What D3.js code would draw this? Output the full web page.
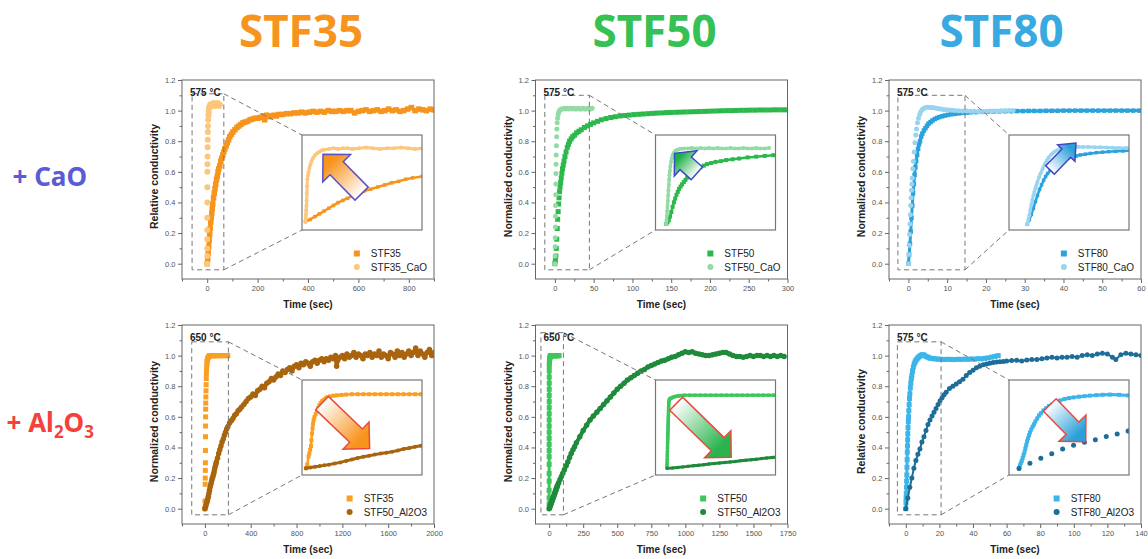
<!DOCTYPE html>
<html>
<head>
<meta charset="utf-8">
<script src="https://cdn.jsdelivr.net/npm/d3@7/dist/d3.min.js"></script>
<style>
  body { margin: 0; background: #fff; }
  svg text { font-family: "Liberation Sans", Arial, sans-serif; }
</style>
</head>
<body>
<svg id="fig" width="1148" height="559"></svg>
<script>
/////////////////// data : [time (sec), relative / normalized conductivity]

// STF35 vs STF35_CaO, 575 C
const stf35Bare575 = [[0,0.0],[2,0.03],[4,0.07],[6,0.11],[8,0.15],[10,0.19],[12,0.23],[14,0.27],[16,0.3],[18,0.33],[20,0.36],[22,0.39],[25,0.43],[28,0.46],[31,0.49],[34,0.52],[37,0.55],[40,0.57],[43,0.6],[46,0.62],[50,0.64],[54,0.67],[58,0.69],[62,0.71],[66,0.73],[70,0.75],[75,0.77],[80,0.79],[85,0.81],[90,0.83],[96,0.845],[102,0.86],[110,0.875],[118,0.89],[126,0.9],[134,0.91],[142,0.92],[150,0.925],[160,0.93],[170,0.94],[180,0.945],[190,0.95],[200,0.95],[210,0.955],[220,0.965],[228,0.94],[236,0.97],[245,0.96],[255,0.965],[265,0.97],[275,0.965],[285,0.975],[300,0.975],[315,0.98],[330,0.98],[345,0.985],[360,0.985],[375,0.99],[390,0.985],[405,0.99],[420,0.995],[435,0.99],[450,0.995],[465,0.99],[480,1.0],[495,0.995],[510,0.995],[525,1.0],[540,0.995],[555,1.0],[570,1.0],[585,0.985],[600,0.995],[615,1.0],[630,1.005],[645,0.995],[660,1.0],[675,1.005],[690,0.995],[705,1.0],[720,1.01],[735,1.0],[750,1.005],[765,0.995],[780,1.0],[795,1.01],[810,1.02],[825,1.0],[840,1.01],[855,1.005],[870,1.0],[885,1.01],[900,1.005]];
const stf35CaO575 = [[0,0.0],[0.1,0.05],[0.2,0.1],[0.3,0.16],[0.4,0.22],[0.5,0.3],[0.6,0.4],[0.7,0.5],[0.8,0.6],[1.0,0.65],[1.3,0.7],[1.7,0.76],[2.1,0.81],[2.6,0.86],[3.2,0.9],[4,0.94],[5,0.97],[6,0.99],[7,1.01],[8,1.02],[10,1.03],[12,1.04],[14,1.03],[16,1.04],[18,1.04],[20,1.03],[23,1.04],[26,1.05],[29,1.04],[32,1.03],[35,1.04],[38,1.04],[41,1.05],[44,1.04],[47,1.03],[50,1.04]];

// STF50 vs STF50_CaO, 575 C
const stf50Bare575 = [[0,0.0],[0.6,0.02],[1.2,0.05],[1.8,0.1],[2.4,0.16],[3,0.23],[3.6,0.29],[4.2,0.34],[4.8,0.39],[5.4,0.43],[6,0.47],[6.7,0.5],[7.4,0.53],[8.2,0.56],[9,0.59],[9.8,0.62],[10.8,0.645],[11.8,0.67],[13,0.7],[14.4,0.73],[16,0.76],[17.5,0.78],[19,0.8],[21,0.815],[23,0.83],[25.5,0.84],[28,0.855],[31,0.865],[34,0.875],[38,0.89],[42,0.9],[46,0.91],[50,0.92],[55,0.93],[60,0.94],[66,0.948],[72,0.955],[78,0.96],[84,0.965],[90,0.968],[96,0.971],[102,0.974],[108,0.976],[114,0.978],[120,0.98],[126,0.982],[132,0.984],[138,0.985],[144,0.987],[150,0.988],[156,0.989],[162,0.99],[168,0.991],[174,0.992],[180,0.993],[186,0.994],[192,0.995],[198,0.996],[204,0.997],[210,0.998],[216,0.999],[222,1.0],[228,1.0],[234,1.001],[240,1.002],[246,1.002],[252,1.003],[258,1.003],[264,1.004],[270,1.004],[276,1.004],[282,1.005],[288,1.005],[294,1.005],[300,1.005]];
const stf50CaO575 = [[0,0.0],[0.15,0.05],[0.3,0.11],[0.45,0.17],[0.6,0.24],[0.75,0.31],[0.9,0.38],[1.05,0.45],[1.2,0.52],[1.35,0.59],[1.5,0.65],[1.7,0.71],[1.95,0.77],[2.25,0.83],[2.6,0.88],[3,0.92],[3.5,0.95],[4.2,0.975],[5,0.99],[6,1.0],[7,1.005],[8.5,1.01],[10,1.01],[12,1.015],[14,1.01],[16,1.015],[18,1.01],[20,1.015],[22,1.01],[24,1.015],[26,1.01],[28,1.01],[30,1.015],[32,1.01],[34,1.01],[36,1.015],[38,1.01],[40,1.01],[42,1.015],[44,1.01],[46,1.01],[48,1.015]];

// STF80 vs STF80_CaO, 575 C
const stf80Bare575 = [[0,0.0],[0.2,0.06],[0.4,0.13],[0.6,0.21],[0.8,0.3],[1.0,0.38],[1.2,0.46],[1.4,0.52],[1.6,0.58],[1.8,0.63],[2.0,0.67],[2.25,0.71],[2.5,0.75],[2.75,0.78],[3.0,0.8],[3.3,0.83],[3.6,0.85],[4.0,0.87],[4.4,0.885],[4.8,0.9],[5.2,0.915],[5.7,0.925],[6.2,0.935],[6.8,0.945],[7.4,0.952],[8,0.958],[8.7,0.963],[9.4,0.968],[10.2,0.972],[11,0.976],[12,0.979],[13,0.982],[14,0.985],[15,0.987],[16,0.989],[17.5,0.99],[19,0.992],[20.5,0.993],[22,0.994],[23.5,0.995],[25,0.996],[26.5,0.996],[28,0.997],[29.5,0.997],[31,0.998],[32.5,0.998],[34,0.998],[35.5,0.999],[37,0.999],[38.5,0.999],[40,1.0],[41.5,1.0],[43,1.0],[44.5,1.0],[46,1.0],[47.5,1.0],[49,1.0],[50.5,1.0],[52,1.0],[53.5,1.0],[55,1.0],[56.5,1.0],[58,1.0],[59.5,1.0]];
const stf80CaO575 = [[0,0.0],[0.1,0.06],[0.2,0.12],[0.3,0.19],[0.4,0.26],[0.5,0.32],[0.6,0.38],[0.7,0.43],[0.8,0.48],[0.9,0.52],[1.0,0.56],[1.15,0.62],[1.3,0.67],[1.5,0.73],[1.7,0.79],[1.9,0.84],[2.1,0.88],[2.35,0.92],[2.6,0.95],[2.9,0.975],[3.2,0.995],[3.6,1.008],[4,1.015],[4.5,1.02],[5,1.022],[5.5,1.021],[6,1.02],[6.6,1.018],[7.2,1.015],[7.8,1.012],[8.4,1.01],[9,1.008],[9.7,1.006],[10.4,1.004],[11.2,1.002],[12,1.0],[13,0.999],[14,0.998],[15,0.997],[16,0.996],[17,0.996],[18,0.995],[19,0.995],[20,0.996],[21,0.997],[22,0.998],[23,0.998],[24,0.999],[25,1.0],[26,1.0],[27,1.0]];

// STF35 vs Al2O3 treated, 650 C
const stf35Bare650 = [[0,0.0],[1.2,0.05],[2.3,0.16],[3,0.2],[3.7,0.25],[4.4,0.3],[4.8,0.38],[5.3,0.47],[5.8,0.54],[6.2,0.6],[6.7,0.65],[7.4,0.69],[8.4,0.73],[9.5,0.77],[10.6,0.81],[11.7,0.85],[12.8,0.88],[13.9,0.905],[15.5,0.925],[17.3,0.945],[19,0.96],[21,0.97],[24,0.98],[27,0.985],[31,0.99],[35,0.995],[40,1.0],[45,1.0],[50,1.0],[55,1.0],[60,1.0],[65,1.0],[70,1.0],[75,1.0],[80,1.0],[85,1.0],[90,1.0],[95,1.0],[100,1.0],[110,1.0],[120,1.0],[130,1.0],[140,1.0],[150,1.0],[160,1.0],[170,1.0],[180,1.0],[190,1.0],[200,1.0]];
const stf35Al2O3650 = [[0,0.0],[4,0.01],[8,0.02],[12,0.03],[16,0.04],[20,0.05],[25,0.065],[30,0.08],[35,0.1],[40,0.12],[45,0.14],[50,0.155],[55,0.17],[60,0.185],[65,0.2],[70,0.21],[75,0.225],[80,0.24],[85,0.26],[90,0.275],[95,0.29],[100,0.305],[110,0.33],[120,0.36],[130,0.385],[140,0.41],[150,0.435],[160,0.455],[170,0.48],[180,0.5],[190,0.52],[200,0.535],[215,0.56],[230,0.575],[245,0.59],[260,0.61],[275,0.62],[290,0.64],[305,0.65],[320,0.665],[340,0.68],[360,0.7],[380,0.72],[400,0.73],[420,0.75],[440,0.74],[460,0.77],[480,0.78],[500,0.8],[520,0.79],[540,0.82],[560,0.83],[580,0.85],[600,0.84],[620,0.86],[640,0.88],[660,0.87],[680,0.9],[700,0.89],[720,0.91],[740,0.92],[760,0.9],[780,0.93],[800,0.94],[820,0.92],[840,0.95],[860,0.94],[880,0.96],[900,0.95],[920,0.93],[940,0.96],[960,0.97],[980,0.95],[1000,0.97],[1020,0.98],[1040,0.96],[1060,0.98],[1080,0.97],[1100,0.99],[1120,0.98],[1140,1.0],[1150,0.93],[1160,0.97],[1180,0.99],[1200,1.0],[1220,0.98],[1240,1.01],[1260,0.99],[1280,1.0],[1300,1.02],[1320,0.99],[1340,1.01],[1360,1.0],[1380,0.98],[1400,1.01],[1420,1.0],[1440,1.02],[1460,0.99],[1480,1.01],[1500,1.0],[1520,1.03],[1540,0.99],[1560,1.01],[1580,1.0],[1600,0.98],[1620,1.02],[1640,1.01],[1660,0.99],[1680,1.03],[1700,1.0],[1720,1.02],[1740,0.99],[1760,1.01],[1780,1.03],[1800,1.0],[1820,1.02],[1840,1.05],[1860,1.0],[1880,1.03],[1900,1.01],[1920,0.99],[1940,1.02],[1960,1.04],[1980,1.0],[2000,1.02]];

// STF50 vs Al2O3 treated, 650 C
const stf50Bare650 = [[0,0.03],[0.05,0.07],[0.1,0.12],[0.15,0.18],[0.2,0.23],[0.25,0.29],[0.3,0.34],[0.35,0.38],[0.4,0.42],[0.45,0.46],[0.5,0.5],[0.55,0.54],[0.6,0.58],[0.65,0.62],[0.7,0.66],[0.75,0.7],[0.8,0.74],[0.85,0.78],[0.9,0.82],[0.95,0.86],[1.0,0.9],[1.2,0.93],[1.6,0.95],[2.3,0.96],[3.2,0.97],[4.2,0.98],[5.3,0.985],[6.5,0.99],[8,0.995],[10,1.0],[13,1.0],[16,1.0],[19,1.0],[22,1.0],[25,1.0],[28,1.0],[31,1.0],[34,1.0],[37,1.0],[40,1.0],[43,1.0],[46,1.0],[49,1.0],[52,1.0],[55,1.0],[58,1.0],[61,1.0],[65,1.0],[69,1.0],[73,1.0]];
const stf50Al2O3650 = [[0,0.0],[3,0.005],[6,0.012],[9,0.02],[12,0.027],[15,0.035],[18,0.042],[21,0.05],[24,0.058],[27,0.065],[30,0.073],[33,0.08],[36,0.088],[39,0.095],[42,0.103],[45,0.11],[48,0.118],[51,0.125],[54,0.133],[57,0.14],[60,0.148],[63,0.155],[70,0.17],[80,0.19],[90,0.21],[100,0.23],[112,0.255],[125,0.28],[137,0.305],[150,0.335],[162,0.36],[175,0.385],[187,0.405],[200,0.43],[225,0.47],[250,0.51],[275,0.545],[300,0.58],[325,0.605],[350,0.63],[375,0.655],[400,0.68],[425,0.705],[450,0.73],[475,0.755],[500,0.78],[525,0.8],[550,0.82],[575,0.84],[600,0.855],[625,0.87],[650,0.885],[675,0.9],[700,0.91],[725,0.925],[750,0.935],[775,0.945],[800,0.955],[825,0.965],[850,0.97],[875,0.98],[900,0.99],[925,0.995],[950,1.005],[975,1.015],[1000,1.025],[1025,1.02],[1050,1.025],[1075,1.015],[1100,1.01],[1125,1.005],[1150,1.0],[1175,1.0],[1200,1.005],[1225,1.01],[1250,1.015],[1275,1.02],[1300,1.02],[1325,1.01],[1350,1.0],[1375,0.995],[1400,0.995],[1425,0.99],[1450,0.995],[1475,1.0],[1500,0.995],[1525,1.0],[1550,1.0],[1575,0.995],[1600,1.0],[1625,0.995],[1650,1.0],[1675,0.995],[1700,1.0],[1725,0.995]];

// STF80 vs STF80_Al2O3, 575 C
const stf80Bare575b = [[0,0.0],[0.1,0.04],[0.2,0.07],[0.3,0.1],[0.4,0.14],[0.5,0.18],[0.6,0.22],[0.7,0.27],[0.8,0.32],[0.9,0.37],[1.0,0.41],[1.1,0.45],[1.2,0.49],[1.35,0.53],[1.5,0.57],[1.65,0.6],[1.8,0.64],[2.0,0.68],[2.2,0.72],[2.4,0.75],[2.7,0.79],[3.0,0.82],[3.3,0.85],[3.6,0.87],[4.0,0.9],[4.5,0.925],[5,0.945],[5.5,0.958],[6,0.968],[6.6,0.978],[7.2,0.985],[7.8,0.992],[8.5,0.998],[9.2,1.003],[10,1.006],[11,1.003],[12,0.995],[13,0.99],[14,0.985],[15,0.982],[16.5,0.98],[18,0.978],[19.5,0.977],[21,0.976],[23,0.975],[25,0.976],[27,0.975],[29,0.974],[31,0.976],[33,0.975],[35,0.977],[37,0.976],[39,0.978],[41,0.977],[43,0.98],[45,0.979],[47,0.982],[49,0.985],[51,0.99],[53,0.995],[55,1.0]];
const stf80Al2O3575 = [[0,0.0],[1.2,0.07],[2.4,0.14],[3.6,0.2],[4.8,0.265],[6.0,0.315],[7.2,0.355],[8.4,0.39],[9.6,0.435],[10.8,0.47],[12.0,0.51],[13.2,0.55],[14.4,0.58],[15.6,0.605],[16.8,0.63],[18.0,0.655],[19.2,0.68],[20.4,0.705],[21.6,0.725],[22.8,0.745],[24,0.76],[26,0.785],[28,0.8],[30,0.815],[32,0.83],[34,0.845],[36,0.87],[38,0.89],[40,0.905],[42,0.92],[44,0.93],[46,0.94],[48,0.945],[50,0.95],[52,0.955],[54,0.958],[56,0.96],[58,0.962],[60,0.965],[63,0.968],[66,0.97],[69,0.965],[72,0.972],[75,0.975],[78,0.975],[81,0.98],[84,0.985],[87,0.99],[90,0.985],[93,0.99],[96,0.99],[99,0.995],[102,0.99],[105,1.0],[108,1.005],[111,1.0],[114,1.01],[117,1.015],[120,1.01],[123,0.99],[125,0.975],[128,1.005],[131,1.015],[134,1.01],[137,1.005],[140,1.0]];

/////////////////// ticks
const yTicks = [0, 0.2, 0.4, 0.6, 0.8, 1.0, 1.2];
const yMinor = [0.1, 0.3, 0.5, 0.7, 0.9, 1.1];
const xTicks35a = [0, 200, 400, 600, 800], xMinor35a = [-100, 100, 300, 500, 700, 900];
const xTicks50a = [0, 50, 100, 150, 200, 250, 300], xMinor50a = [25, 75, 125, 175, 225, 275];
const xTicks80a = [0, 10, 20, 30, 40, 50, 60], xMinor80a = [-5, 5, 15, 25, 35, 45, 55];
const xTicks35b = [0, 400, 800, 1200, 1600, 2000], xMinor35b = [-200, 200, 600, 1000, 1400, 1800];
const xTicks50b = [0, 250, 500, 750, 1000, 1250, 1500, 1750], xMinor50b = [125, 375, 625, 875, 1125, 1375, 1625];
const xTicks80b = [0, 20, 40, 60, 80, 100, 120, 140], xMinor80b = [-10, 10, 30, 50, 70, 90, 110, 130];

const columnTitles = ['STF35', 'STF50', 'STF80'];

/////////////////// layout
const colLeft = [182, 535.5, 889];
const rowTop = [80, 325];
const pw = 252, ph = 199;
const yDomain = [-0.1, 1.2];
const inset = { dx: 120, dy: 55, w: 120, h: 95 };

const panels = [
  { col: 0, row: 0, xDomain: [-100, 900], xTicks: xTicks35a, xMinor: xMinor35a,
    yTitle: 'Relative conductivity', temp: '575 °C',
    series: [
      { name: 'STF35', data: stf35Bare575, shape: 'square', color: '#f7941d', size: 5.5, line: 4, inSize: 3.5, inLine: 2.5 },
      { name: 'STF35_CaO', data: stf35CaO575, shape: 'circle', color: '#fcc67c', size: 6, line: 0, inSize: 4, inLine: 3 }],
    zoom: [-60, 66, -0.04, 1.11],
    ins: { x: [-1.5, 50], y: [-0.119, 1.228] },
    arrow: { tip: [21, 19.3], tail: [59.6, 58.6], hw: 39, hl: 19.5, sw: 18.5, fill: '#f7941d', stroke: '#5b52c8' } },
  { col: 1, row: 0, xDomain: [-25, 300], xTicks: xTicks50a, xMinor: xMinor50a,
    yTitle: 'Normalized conductivity', temp: '575 °C',
    series: [
      { name: 'STF50', data: stf50Bare575, shape: 'square', color: '#2cb84b', size: 5, line: 0, inSize: 4, inLine: 2.5 },
      { name: 'STF50_CaO', data: stf50CaO575, shape: 'circle', color: '#93dba4', size: 5, line: 0, inSize: 4, inLine: 3 }],
    zoom: [-13, 44.5, -0.04, 1.1],
    ins: { x: [-5, 51], y: [-0.081, 1.19] },
    arrow: { tip: [19, 18.3], tail: [41.3, 38.3], hw: 34, hl: 15, sw: 17, fill: '#1fae45', stroke: '#3a4bc4' } },
  { col: 2, row: 0, xDomain: [-5, 60], xTicks: xTicks80a, xMinor: xMinor80a,
    yTitle: 'Normalized conductivity', temp: '575 °C',
    series: [
      { name: 'STF80', data: stf80Bare575, shape: 'square', color: '#2aa2dc', size: 4.5, line: 3, inSize: 3.5, inLine: 2.5 },
      { name: 'STF80_CaO', data: stf80CaO575, shape: 'circle', color: '#98d4f0', size: 5, line: 0, inSize: 4, inLine: 3 }],
    zoom: [-2.7, 14.6, -0.04, 1.1],
    ins: { x: [-1.8, 10], y: [-0.075, 1.178] },
    arrow: { tip: [67, 8], tail: [41, 35], hw: 24, hl: 14, sw: 12, fill: '#2a9fd8', stroke: '#4444c4' } },
  { col: 0, row: 1, xDomain: [-200, 2000], xTicks: xTicks35b, xMinor: xMinor35b,
    yTitle: 'Normalized conductivity', temp: '650 °C',
    series: [
      { name: 'STF35', data: stf35Bare650, shape: 'square', color: '#f9a024', size: 5, line: 0, inSize: 4, inLine: 2.5 },
      { name: 'STF50_Al2O3', data: stf35Al2O3650, shape: 'circle', color: '#a9640e', size: 5.5, line: 4, inSize: 4, inLine: 3 }],
    zoom: [-115, 205, -0.04, 1.09],
    ins: { x: [-3.4, 101], y: [-0.09, 1.192] },
    arrow: { tip: [67.6, 68.6], tail: [20, 23], hw: 37.6, hl: 18.8, sw: 18.4, fill: '#f7941d', stroke: '#ea4a3e' } },
  { col: 1, row: 1, xDomain: [-100, 1750], xTicks: xTicks50b, xMinor: xMinor50b,
    yTitle: 'Normalized conductivity', temp: '650 °C',
    series: [
      { name: 'STF50', data: stf50Bare650, shape: 'square', color: '#3dc65c', size: 5, line: 3, inSize: 3.5, inLine: 3 },
      { name: 'STF50_Al2O3', data: stf50Al2O3650, shape: 'circle', color: '#1f8a3b', size: 5.5, line: 4, inSize: 3.5, inLine: 3 }],
    zoom: [-60, 105, -0.04, 1.15],
    ins: { x: [-6.6, 62], y: [-0.091, 1.208] },
    arrow: { tip: [75.7, 77.3], tail: [20.7, 23.7], hw: 37.6, hl: 18.8, sw: 18.4, fill: '#2ab44e', stroke: '#ea4a3e' } },
  { col: 2, row: 1, xDomain: [-10, 140], xTicks: xTicks80b, xMinor: xMinor80b,
    yTitle: 'Relative conductivity', temp: '575 °C',
    series: [
      { name: 'STF80', data: stf80Bare575b, shape: 'square', color: '#3bb5ea', size: 5, line: 3, inSize: 4, inLine: 3 },
      { name: 'STF80_Al2O3', data: stf80Al2O3575, shape: 'circle', color: '#1d6d98', size: 5, line: 2, inSize: 5, inLine: 0 }],
    zoom: [-5, 21, -0.04, 1.09],
    ins: { x: [-1.1, 12.1], y: [-0.09, 1.205] },
    arrow: { tip: [76.7, 61.7], tail: [40.8, 25], hw: 37.7, hl: 18.9, sw: 17.7, fill: '#2a9fd8', stroke: '#ea4a3e' } }
];

/////////////////// drawing
const svg = d3.select('#fig');
const defs = svg.append('defs');
svg.append('rect').attr('width', 1148).attr('height', 559).attr('fill', '#fff');

function drawMarkers(g, s, size, x, y) {
  if (s.shape === 'square') {
    g.selectAll(null).data(s.data).join('rect')
      .attr('x', d => x(d[0]) - size / 2).attr('y', d => y(d[1]) - size / 2)
      .attr('width', size).attr('height', size).attr('fill', s.color);
  } else {
    g.selectAll(null).data(s.data).join('circle')
      .attr('cx', d => x(d[0])).attr('cy', d => y(d[1])).attr('r', size / 2).attr('fill', s.color);
  }
}

function drawTrace(g, data, color, width, x, y) {
  if (!width) return;
  g.append('path').datum(data)
    .attr('d', d3.line().x(d => x(d[0])).y(d => y(d[1])))
    .attr('fill', 'none').attr('stroke', color).attr('stroke-width', width)
    .attr('stroke-linejoin', 'round').attr('stroke-linecap', 'round');
}

function arrowPoints(a, ox, oy) {
  const P = [ox + a.tip[0], oy + a.tip[1]], T = [ox + a.tail[0], oy + a.tail[1]];
  const dx = P[0] - T[0], dy = P[1] - T[1], L = Math.hypot(dx, dy);
  const u = [dx / L, dy / L], n = [-u[1], u[0]];
  const B = [P[0] - u[0] * a.hl, P[1] - u[1] * a.hl];
  const off = (c, k) => [c[0] + n[0] * k, c[1] + n[1] * k];
  return { pts: [off(T, a.sw / 2), off(B, a.sw / 2), off(B, a.hw / 2), P, off(B, -a.hw / 2), off(B, -a.sw / 2), off(T, -a.sw / 2)], P, T };
}

function styleAxis(ax) {
  ax.select('.domain').remove();
  ax.attr('font-family', '"Liberation Sans", Arial, sans-serif').attr('font-size', 7.5);
  ax.selectAll('line').attr('stroke', '#666');
  ax.selectAll('text').attr('fill', '#555');
}

panels.forEach((p, i) => {
  const left = colLeft[p.col], top = rowTop[p.row];
  const x = d3.scaleLinear().domain(p.xDomain).range([left, left + pw]);
  const y = d3.scaleLinear().domain(yDomain).range([top + ph, top]);
  const g = svg.append('g');

  defs.append('clipPath').attr('id', 'clip' + i).append('rect')
    .attr('x', left).attr('y', top).attr('width', pw).attr('height', ph);

  // main data
  const dg = g.append('g').attr('clip-path', `url(#clip${i})`);
  p.series.forEach(s => {
    const sg = dg.append('g');
    drawTrace(sg, s.data, s.color, s.line, x, y);
    drawMarkers(sg, s, s.size, x, y);
  });

  // frame + axes
  g.append('rect').attr('x', left).attr('y', top).attr('width', pw).attr('height', ph)
    .attr('fill', 'none').attr('stroke', '#666').attr('stroke-width', 1);
  const xa = g.append('g').attr('transform', `translate(0,${top + ph})`)
    .call(d3.axisBottom(x).tickValues(p.xTicks).tickSize(4).tickPadding(3).tickFormat(d3.format('d')));
  styleAxis(xa);
  const xm = g.append('g').attr('transform', `translate(0,${top + ph})`)
    .call(d3.axisBottom(x).tickValues(p.xMinor).tickSize(2.5).tickFormat(''));
  styleAxis(xm);
  const ya = g.append('g').attr('transform', `translate(${left},0)`)
    .call(d3.axisLeft(y).tickValues(yTicks).tickSize(4).tickPadding(2.5).tickFormat(d3.format('.1f')));
  styleAxis(ya);
  const ym = g.append('g').attr('transform', `translate(${left},0)`)
    .call(d3.axisLeft(y).tickValues(yMinor).tickSize(2.5).tickFormat(''));
  styleAxis(ym);

  g.append('text').attr('x', left + pw / 2).attr('y', top + ph + 28.5)
    .attr('text-anchor', 'middle').attr('font-size', 10).attr('font-weight', 'bold').attr('fill', '#222')
    .text('Time (sec)');
  g.append('text').attr('transform', `translate(${left - 24},${top + ph / 2 - 3}) rotate(-90)`)
    .attr('text-anchor', 'middle').attr('font-size', 10.5).attr('font-weight', 'bold').attr('fill', '#222')
    .text(p.yTitle);

  // zoom box and connectors
  const ix = left + inset.dx, iy = top + inset.dy;
  const z = p.zoom;
  const dash = { stroke: '#777', 'stroke-width': 1, 'stroke-dasharray': '5,3.5', fill: 'none' };
  const zr = g.append('rect').attr('x', x(z[0])).attr('y', y(z[3]))
    .attr('width', x(z[1]) - x(z[0])).attr('height', y(z[2]) - y(z[3]));
  const l1 = g.append('line').attr('x1', x(z[1])).attr('y1', y(z[3])).attr('x2', ix).attr('y2', iy);
  const l2 = g.append('line').attr('x1', x(z[1])).attr('y1', y(z[2])).attr('x2', ix).attr('y2', iy + inset.h);
  [zr, l1, l2].forEach(el => Object.entries(dash).forEach(([k, v]) => el.attr(k, v)));

  g.append('text').attr('x', left + 8).attr('y', top + 16)
    .attr('font-size', 10).attr('font-weight', 'bold').attr('fill', '#222').text(p.temp);

  // inset
  const xi = d3.scaleLinear().domain(p.ins.x).range([ix, ix + inset.w]);
  const yi = d3.scaleLinear().domain(p.ins.y).range([iy + inset.h, iy]);
  g.append('rect').attr('x', ix).attr('y', iy).attr('width', inset.w).attr('height', inset.h)
    .attr('fill', '#fff');
  defs.append('clipPath').attr('id', 'iclip' + i).append('rect')
    .attr('x', ix).attr('y', iy).attr('width', inset.w).attr('height', inset.h);
  const ig = g.append('g').attr('clip-path', `url(#iclip${i})`);
  p.series.forEach(s => {
    const sub = s.data.filter(d => d[0] >= p.ins.x[0] - 5 && d[0] <= p.ins.x[1] + 5);
    const sg = ig.append('g');
    drawTrace(sg, sub, s.color, s.inLine, xi, yi);
    drawMarkers(sg, { shape: s.shape, color: s.color, data: sub }, s.inSize, xi, yi);
  });

  // arrow
  const ar = arrowPoints(p.arrow, ix, iy);
  const grad = defs.append('linearGradient').attr('id', 'ag' + i)
    .attr('gradientUnits', 'userSpaceOnUse')
    .attr('x1', ar.T[0]).attr('y1', ar.T[1]).attr('x2', ar.P[0]).attr('y2', ar.P[1]);
  grad.append('stop').attr('offset', 0).attr('stop-color', '#fff');
  grad.append('stop').attr('offset', 0.8).attr('stop-color', p.arrow.fill);
  g.append('polygon').attr('points', ar.pts.map(q => q.join(',')).join(' '))
    .attr('fill', `url(#ag${i})`).attr('stroke', p.arrow.stroke).attr('stroke-width', 1.5)
    .attr('stroke-linejoin', 'miter');

  g.append('rect').attr('x', ix).attr('y', iy).attr('width', inset.w).attr('height', inset.h)
    .attr('fill', 'none').attr('stroke', '#777').attr('stroke-width', 1.2);

  // legend (right aligned)
  const lg = g.append('g');
  const texts = p.series.map((s, k) => lg.append('text')
    .attr('y', top + 173.5 + k * 13.5 + 3.5).attr('font-size', 10).attr('fill', '#222').text(s.name));
  const wmax = d3.max(texts, t => t.node().getComputedTextLength());
  const tx = left + 245 - wmax;
  texts.forEach(t => t.attr('x', tx));
  p.series.forEach((s, k) => {
    const cy = top + 173.5 + k * 13.5;
    drawMarkers(lg.append('g'), { shape: s.shape, color: s.color, data: [[0, 0]] }, 6,
      () => tx - 14, () => cy);
  });
});

/////////////////// headings
const titleX = [301, 654.5, 1001.5];
const titleColors = ['#f7941d', '#35c153', '#38aae1'];
columnTitles.forEach((t, k) => {
  svg.append('text').attr('x', titleX[k]).attr('y', 46.5).attr('text-anchor', 'middle')
    .style('font-family', '"Noto Sans", sans-serif').attr('font-weight', 'bold').attr('font-size', 44)
    .attr('fill', titleColors[k]).text(t);
});

svg.append('text').attr('x', 12.5).attr('y', 186)
  .style('font-family', '"Noto Sans", sans-serif').attr('font-weight', 'bold').attr('font-size', 26)
  .attr('fill', '#5b5bd5').text('+ CaO');

const al = svg.append('text').attr('x', 6.5).attr('y', 431.5)
  .style('font-family', '"Noto Sans", sans-serif').attr('font-weight', 'bold').attr('font-size', 26)
  .attr('fill', '#f2423a');
al.append('tspan').text('+ Al');
al.append('tspan').attr('font-size', 17).attr('dy', 6).text('2');
al.append('tspan').attr('dy', -6).text('O');
al.append('tspan').attr('font-size', 17).attr('dy', 6).text('3');
</script>
</body>
</html>
